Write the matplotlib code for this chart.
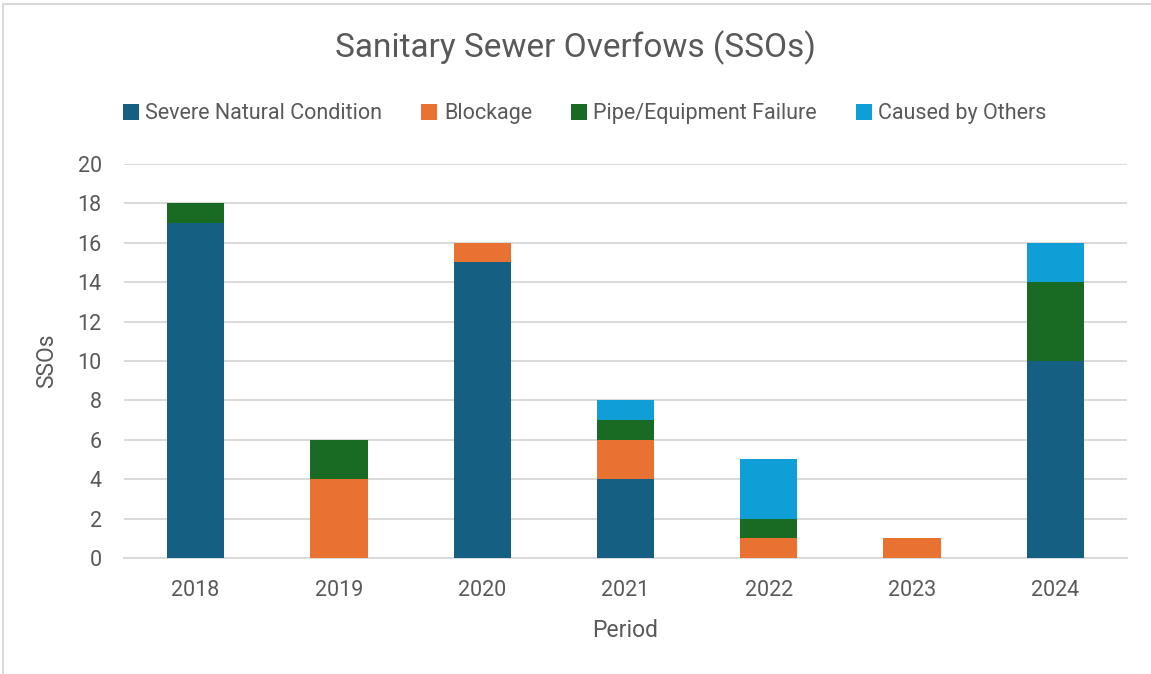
import matplotlib.pyplot as plt
import numpy as np
from matplotlib.patches import Rectangle

plt.rcParams['font.family'] = ['Roboto', 'DejaVu Sans']

periods = ['2018', '2019', '2020', '2021', '2022', '2023', '2024']
severe = [17, 0, 15, 4, 0, 0, 10]
blockage = [0, 4, 1, 2, 1, 1, 0]
pipe_fail = [1, 2, 0, 1, 1, 0, 4]
others = [0, 0, 0, 1, 3, 0, 2]

series = [
    ('Severe Natural Condition', severe, '#156082'),
    ('Blockage', blockage, '#E97132'),
    ('Pipe/Equipment Failure', pipe_fail, '#196B24'),
    ('Caused by Others', others, '#0F9ED5'),
]

text_color = '#595959'
grid_color = '#D9D9D9'

fig = plt.figure(figsize=(11.51, 6.74), dpi=100)
ax = fig.add_axes([0.1077, 0.1721, 0.8714, 0.5846])

x = np.arange(len(periods))
bottom = np.zeros(len(periods))
for name, vals, color in series:
    ax.bar(x, vals, width=0.4, bottom=bottom, color=color, label=name, zorder=3)
    bottom += np.array(vals)

ax.set_xlim(-0.5, len(periods) - 0.5)
ax.set_ylim(0, 20)
ax.set_yticks(range(0, 21, 2))
ax.set_xticks(x)
ax.set_xticklabels(periods)
ax.yaxis.grid(True, color=grid_color, linewidth=1.4, zorder=0)
for s in ['top', 'right', 'left']:
    ax.spines[s].set_visible(False)
ax.spines['bottom'].set_color(grid_color)
ax.spines['bottom'].set_linewidth(1.4)
ax.tick_params(axis='both', length=0, labelsize=15.5, labelcolor=text_color)
ax.tick_params(axis='x', pad=16)
ax.tick_params(axis='y', pad=16)

ax.set_ylabel('SSOs', fontsize=16.5, color=text_color, labelpad=14)
ax.set_xlabel('Period', fontsize=16.5, color=text_color, labelpad=13)

fig.text(0.5, 0.929, 'Sanitary Sewer Overfows (SSOs)', ha='center', va='center',
         fontsize=24, color=text_color)

leg = fig.legend(loc='center', bbox_to_anchor=(0.508, 0.831), ncol=4, frameon=False,
                 fontsize=15.5, handlelength=0.75, handleheight=0.75, handletextpad=0.3,
                 columnspacing=1.8)
for t in leg.get_texts():
    t.set_color(text_color)

# chart border
fig.patches.append(Rectangle((3 / 1151, -0.05), 1.1, (674 - 4) / 674 + 0.05,
                             transform=fig.transFigure, fill=False,
                             edgecolor=grid_color, linewidth=1.5))

fig.savefig('out.png', dpi=100)
